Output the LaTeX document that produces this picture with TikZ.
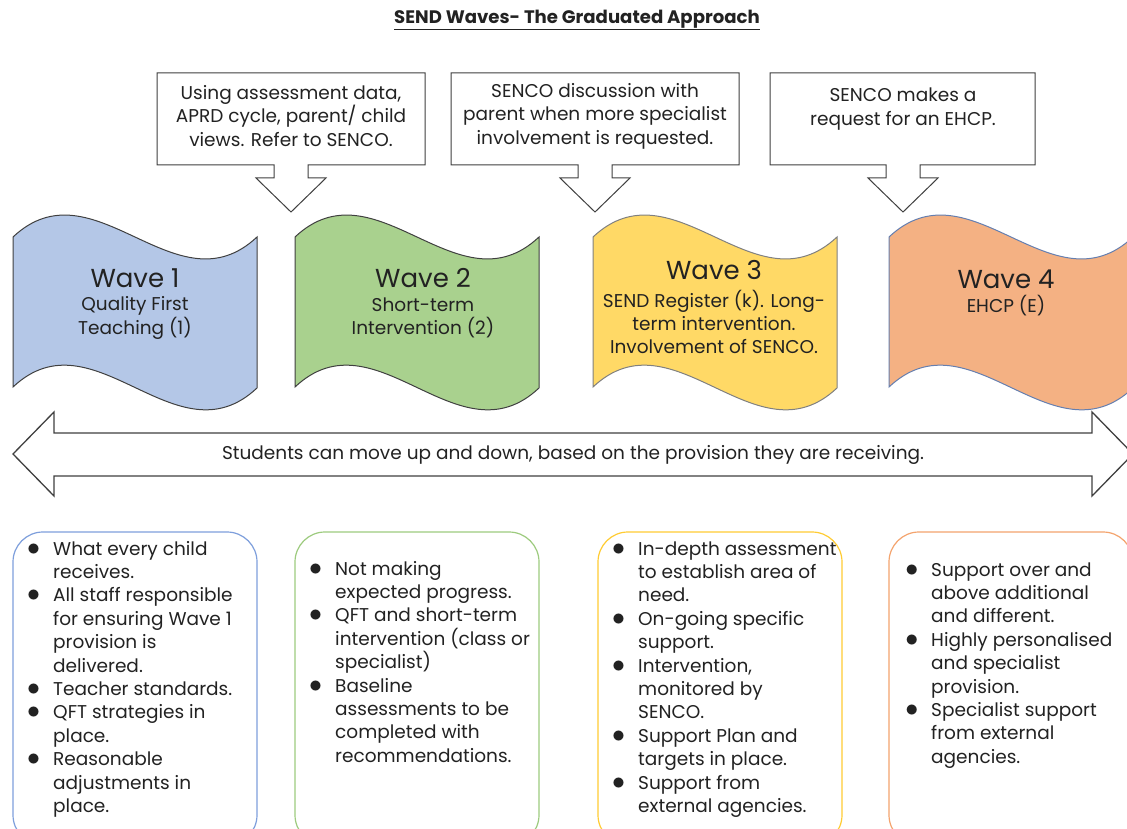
\documentclass[tikz,border=0pt]{standalone}
\usepackage{fontspec}
\setmainfont{Poppins}
\definecolor{ink}{HTML}{222222}
\definecolor{edge}{HTML}{404040}
\definecolor{waveblue}{HTML}{B4C7E7}
\definecolor{wavegreen}{HTML}{A9D18E}
\definecolor{waveyellow}{HTML}{FFD966}
\definecolor{waveorange}{HTML}{F4B183}
\definecolor{lineblue}{HTML}{7E9FDC}
\definecolor{linegreen}{HTML}{9DCB7E}
\definecolor{lineyellow}{HTML}{FFCC33}
\definecolor{lineorange}{HTML}{F4A46E}
\newcommand{\bitem}{\llap{\scalebox{1.5}{$\bullet$}\hspace{13pt}}}
\begin{document}
\begin{tikzpicture}[x=1pt,y=-1pt,
  txt/.style={font=\fontsize{18.5}{23.4}\selectfont,text=ink,inner sep=0pt},
  wavetitle/.style={font=\fontsize{26}{30}\selectfont,text=ink,inner sep=0pt}]
  \clip (0,0) rectangle (1127,829);
  \fill[white] (0,0) rectangle (1127,829);
  \node[font=\fontsize{18.1}{21}\selectfont\bfseries,text=ink] (title) at (577,20)
    {\underline{SEND Waves- The Graduated Approach}};
  \foreach \m/\l/\r in {291/157/425,595/451/739,903/770/1035} {
    \draw[edge,line width=1pt,fill=white] (\l,73) -- (\r,73) -- (\r,165)
      -- (\m+17,165) -- (\m+17,178) -- (\m+35,178) -- (\m,212) -- (\m-35,178)
      -- (\m-17,178) -- (\m-17,165) -- (\l,165) -- cycle;
  }
  \node[txt,align=center] (ask1) at (291,116)
    {Using assessment data,\\APRD cycle, parent/ child\\views. Refer to SENCO.};
  \node[txt,align=center] (ask2) at (595,116)
    {SENCO discussion with\\parent when more specialist\\involvement is requested.};
  \node[txt,align=center] (ask3) at (903,109)
    {SENCO makes a\\request for an EHCP.};
  \foreach \x/\fc/\dc in {13/waveblue/edge,295/wavegreen/edge,593/waveyellow/black!50,889/waveorange/lineblue!80!black} {
    \filldraw[fill=\fc,draw=\dc,line width=1pt] (\x,237) .. controls +(81,-76) and +(-81,76) .. (\x+244,237)
      -- (\x+244,388) .. controls +(-81,76) and +(81,-76) .. (\x,387) -- cycle;
  }
  \node[wavetitle] (w1) at (135,278) {Wave 1};
  \node[txt,align=center] (w1s) at (135,318) {Quality First\\Teaching (1)};
  \node[wavetitle] (w2) at (423,278) {Wave 2};
  \node[txt,align=center] (w2s) at (423,318) {Short-term\\Intervention (2)};
  \node[wavetitle] (w3) at (714,270) {Wave 3};
  \node[txt,align=center] (w3s) at (714,322) {SEND Register (k). Long-\\term intervention.\\Involvement of SENCO.};
  \node[wavetitle] (w4) at (1006,279) {Wave 4};
  \node[txt,align=center] (w4s) at (1006,306) {EHCP (E)};
  \draw[edge,line width=1.3pt,fill=white,line join=miter] (13,454) -- (54,412) -- (54,433) -- (1092,433)
    -- (1092,412) -- (1133,454) -- (1092,496) -- (1092,476) -- (54,476) -- (54,496) -- cycle;
  \node[txt] (move) at (573,455) {Students can move up and down, based on the provision they are receiving.};
  \foreach \x/\c in {13/lineblue,295/linegreen,598/lineyellow,889/lineorange} {
    \draw[\c,line width=1.2pt,rounded corners=30pt] (\x,532) rectangle (\x+244,845);
  }
  % base anchor sits on the last line of each list
  \node[txt,align=left,anchor=base west] (b1) at (53,812.4)
    {\bitem What every child\\receives.\\\bitem All staff responsible\\for ensuring Wave 1\\provision is\\delivered.\\
     \bitem Teacher standards.\\\bitem QFT strategies in\\place.\\\bitem Reasonable\\adjustments in\\place.};
  \node[txt,align=left,anchor=base west] (b2) at (335,762.2)
    {\bitem Not making\\expected progress.\\\bitem QFT and short-term\\intervention (class or\\specialist)\\
     \bitem Baseline\\assessments to be\\completed with\\recommendations.};
  \node[txt,align=left,anchor=base west] (b3) at (638,812.4)
    {\bitem In-depth assessment\\to establish area of\\need.\\\bitem On-going specific\\support.\\
     \bitem Intervention,\\monitored by\\SENCO.\\\bitem Support Plan and\\targets in place.\\
     \bitem Support from\\external agencies.};
  \node[txt,align=left,anchor=base west] (b4) at (931,763.2)
    {\bitem Support over and\\above additional\\and different.\\\bitem Highly personalised\\and specialist\\provision.\\
     \bitem Specialist support\\from external\\agencies.};
\end{tikzpicture}
\end{document}
